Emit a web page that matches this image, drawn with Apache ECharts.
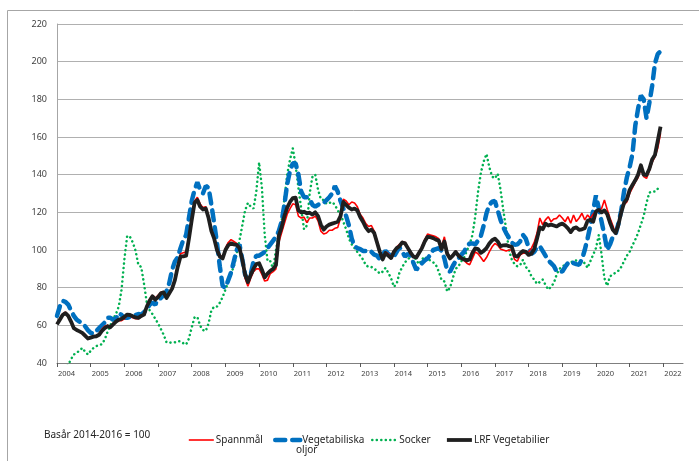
<!DOCTYPE html>
<html>
<head>
<meta charset="utf-8">
<script src="https://cdn.jsdelivr.net/npm/echarts@6/dist/echarts.min.js"></script>
<style>
  html, body { margin: 0; padding: 0; background: #fff; }
  #chart { width: 699px; height: 461px; }
</style>
</head>
<body>
<div id="chart"></div>
<script>
  // år på x-axeln, månadsdata jan 2004 - dec 2021
  const years = [2004, 2005, 2006, 2007, 2008, 2009, 2010, 2011, 2012, 2013, 2014, 2015, 2016, 2017, 2018, 2019, 2020, 2021, 2022]
  const months = ['01', '02', '03', '04', '05', '06', '07', '08', '09', '10', '11', '12']

  const spannmal = [
    61, 63.5, 66, 67, 65.5, 62, 58.5, 57.5, 57, 56, 55, 53,
    53.5, 54, 54.5, 55.5, 58, 59.5, 60, 59.5, 61, 62, 62.5, 62.5,
    63.5, 65.5, 65, 64, 63.5, 63.5, 64.5, 66, 70.5, 74, 76, 74.5,
    76, 77.5, 78, 75, 77.5, 80, 85, 92, 98, 98.5, 99, 107.5,
    117, 126, 128, 124.5, 122.5, 123, 118, 111, 107, 101, 97.5, 96,
    101, 104, 105.5, 104.5, 103.5, 101.5, 94, 85, 80.7, 85, 88.5, 90,
    90, 87, 83.5, 84, 87.5, 88.5, 90, 104, 109, 114, 119, 122,
    124.5, 124, 118, 117, 117.5, 114.5, 117, 117, 118, 115.5, 110, 108.5,
    109, 110.5, 110.5, 111.5, 112, 117, 127, 126, 124, 125.5, 125, 123,
    119, 117, 114, 112.5, 113, 110, 105, 99.5, 96, 99, 98, 96.5,
    99.5, 101.5, 103, 104.5, 104, 101.5, 99, 97, 96.5, 99, 102, 105.5,
    108.5, 108, 107.5, 107, 106, 102, 107, 99, 96, 97.5, 99.5, 97.5,
    96, 94.5, 93, 92.2, 95.5, 99, 98, 96, 93.9, 96, 99, 101.7,
    103.5, 102.5, 100.5, 100, 99.5, 100, 100, 95, 94, 97.5, 98.3, 98.3,
    99, 101, 104, 109, 117, 113.5, 116, 117.7, 115, 116.5, 116.8, 118.6,
    117, 115, 117.7, 114.2, 118.6, 115.1, 117, 119.5, 116, 118.6, 116.9, 119,
    121, 121, 122, 126.6, 121.5, 117, 113, 108.5, 112, 121, 124, 125.5,
    130, 133, 136, 138.5, 143, 139, 138, 142, 146.5, 149.5, 154, 162
  ]

  const oljor = [
    65, 70, 73, 72.5, 71, 68, 65, 63, 62, 61, 59.5, 57.5,
    56, 55.5, 57, 58.5, 60, 61.5, 64, 64, 63, 63.5, 66.5, 65.5,
    64, 64, 64.5, 65, 65.5, 66, 65.7, 67, 68.5, 71, 72, 71,
    73.6, 74.5, 76, 78, 82.5, 89.5, 93.9, 96, 101, 105.4, 108, 117,
    126, 131.9, 136, 132, 130.1, 134, 133, 124, 114.2, 103.6, 91.3, 81,
    80, 84, 88, 94, 100, 103, 95, 87, 84, 87, 94, 97,
    97, 98, 99, 101, 103, 105, 107, 110, 115, 124, 135, 142,
    146, 146, 140, 131, 128, 128, 127, 124, 123, 124, 125, 125,
    126.5, 128, 130, 134, 131, 126, 122, 118, 113, 106, 102, 101,
    100.5, 99.5, 99.5, 100, 99, 97.5, 97, 95, 97.5, 99.5, 98, 97,
    96.5, 99, 101.5, 99, 96.5, 98, 97, 93, 89.5, 91, 93, 94.5,
    95.5, 97.5, 100, 100.5, 101, 99.5, 95.5, 89, 88.5, 91.5, 94, 95.5,
    97.4, 99, 102, 103.5, 103.5, 103, 105, 107.5, 113, 119.5, 124, 125.6,
    126, 121, 116, 112, 109, 106.5, 104, 102.7, 103, 104.5, 108, 106,
    101.5, 98, 99, 101.5, 102, 99.5, 97, 94.5, 93, 91.5, 88.6, 88.6,
    88.6, 91, 93, 94, 93, 92.5, 92.2, 95, 100, 106, 113, 121,
    129, 122, 115, 108, 100, 103, 107, 108.5, 114, 121, 131, 138.5,
    144, 151, 166, 175, 182, 180, 170, 178, 187, 199, 204, 205.5
  ]

  const socker = [
    36, 35, 36, 37.5, 39, 42, 44.5, 45.5, 46.5, 48, 46, 44.5,
    46.5, 48, 49, 49.5, 50, 52.5, 56.5, 60, 63.5, 66, 70, 79,
    95, 107.5, 107, 104, 99.5, 92, 91, 82, 72, 68, 66, 63.5,
    61, 58, 55, 51, 50.7, 51, 51, 51.5, 51.5, 50.5, 49.8, 53,
    59, 64.2, 64.5, 59.8, 57.5, 57, 61, 68, 70, 70, 72, 75,
    79, 83, 88, 91, 98, 105, 113, 121, 125, 123, 122, 131,
    146.5, 133, 108, 94, 94, 90, 100, 108, 115, 127, 140, 148,
    154, 145, 133, 122, 111, 113, 130, 139, 140, 132, 127, 126.5,
    124.5, 125, 125.5, 124, 121, 119, 115, 111, 106, 103, 101, 99,
    97, 95, 92, 91, 91, 90, 89, 87.5, 88.5, 90.5, 88, 85,
    80.5, 82, 88, 91, 93.5, 95, 96.5, 97, 94.5, 92.5, 95, 96.5,
    95, 94.5, 93.5, 92, 88.5, 84, 83.3, 78, 80, 85, 90, 91.3,
    94, 96, 99.5, 103, 108, 118, 131, 141, 147, 151, 144, 139,
    138, 140.5, 132, 121, 111, 100, 95, 92.5, 91.3, 92, 94.8, 91,
    89.5, 86, 84.3, 82, 83, 84.3, 81.5, 79, 80.5, 82.5, 87, 90,
    91.3, 92, 92.5, 93.5, 94, 94.5, 94.5, 94, 93, 90.5, 94, 97.5,
    101, 108, 97.5, 85, 81, 86, 87, 88, 89, 91, 94, 97,
    99, 102.5, 105.5, 109, 113.5, 118, 125, 130.5, 131, 131, 132.5, 133.6
  ]

  const lrf = [
    60.5, 63, 65.5, 66.5, 65, 62, 58.5, 57.5, 56.8, 56, 54.5, 53,
    53.5, 54, 54.2, 55, 57, 58.5, 59.5, 59, 60.5, 62, 63, 63.5,
    64.5, 65.7, 65.5, 64.8, 64.2, 64, 65, 65.7, 70, 73, 75.4, 73.6,
    75, 77, 77.5, 74.5, 77, 79.5, 84, 91, 96.6, 96.6, 97, 106,
    116, 125, 126.5, 123, 121.5, 122, 117, 110, 106, 100, 96.5, 95.5,
    100, 102.5, 103.5, 103, 102.7, 101, 95, 87, 83, 86.8, 90, 92.5,
    93, 89.5, 85.5, 87.5, 89, 90, 92, 107.5, 112, 118, 122.5, 125.5,
    127.5, 127.8, 121, 120, 120.3, 119.5, 119.8, 118.8, 120, 118, 113.5, 110.8,
    112.5, 113.5, 114, 114.5, 115, 118, 125.5, 124, 122.5, 121.5, 122, 121,
    117.5, 115, 112, 110, 110.8, 109, 104, 99, 95, 98.4, 97, 95.7,
    99, 101, 102, 104, 103.5, 101, 98.5, 96.5, 96, 98.5, 101, 104.5,
    107, 106.8, 106.3, 105.5, 105, 100.5, 104.5, 98, 95.5, 97, 99, 97,
    95.7, 95, 94.5, 95, 98.5, 100.9, 100.5, 98.5, 99.5, 101, 103.5, 105.2,
    106, 104.5, 102, 102.5, 102.6, 102, 101.7, 97, 96.5, 98.3, 99.5, 99,
    97.4, 98, 100.5, 106, 112, 111, 114, 113, 113.5, 113, 112.5, 113.5,
    114, 113, 111.5, 109.5, 111.5, 112, 110.7, 111, 111.6, 115.5, 116, 115,
    120.5, 121.3, 120, 121, 119, 114.5, 110.7, 109, 113.5, 120, 125, 127,
    131.9, 134.5, 137, 140, 145, 140, 139.8, 143, 148, 150.4, 158, 165.5
  ]

  // axeln går till aug 2022
  let categories = []
  years.forEach(y => months.forEach(m => categories.push(y + '-' + m)))
  categories = categories.slice(0, 224)

  const yearTick = (idx) => idx % 12 === 0
  const font = 'Noto Sans'

  let dom = echarts.init(document.getElementById('chart'))
  let option = {
    animation: false,
    backgroundColor: '#fff',
    textStyle: { fontFamily: font },
    grid: { left: 57, right: 16, top: 24, bottom: 98 },
    xAxis: {
      type: 'category',
      data: categories,
      boundaryGap: false,
      axisLine: { lineStyle: { color: '#7f7f7f', width: 1 } },
      axisTick: { show: true, interval: yearTick, length: 4, lineStyle: { color: '#595959' } },
      axisLabel: {
        interval: yearTick,
        formatter: v => v.slice(0, 4),
        align: 'left',
        padding: [0, 0, 0, 1],
        margin: 7,
        fontSize: 7.5,
        color: '#404040',
        fontFamily: font
      },
      splitLine: { show: false }
    },
    yAxis: {
      type: 'value',
      min: 40,
      max: 220,
      interval: 20,
      axisLine: { show: true, lineStyle: { color: '#a6a6a6' } },
      axisTick: { show: false },
      axisLabel: { fontSize: 9, color: '#404040', margin: 10, fontFamily: font },
      splitLine: { lineStyle: { color: '#b0b0b0', width: 1 } }
    },
    legend: [
      { data: ['Spannmål'], left: 183 },
      { data: ['Vegetabiliska oljor'], left: 268, formatter: () => 'Vegetabiliska' },
      { data: ['Socker'], left: 366 },
      { data: ['LRF Vegetabilier'], left: 440 }
    ].map(l => Object.assign({
      top: 430,
      itemWidth: 25,
      itemHeight: 10,
      itemGap: 0,
      lineStyle: { width: 'inherit' },
      itemStyle: { opacity: 0 },
      textStyle: { fontSize: 10, color: '#262626', fontFamily: font, padding: [0, 0, 0, -3] }
    }, l)),
    graphic: [
      { type: 'rect', shape: { x: 7.5, y: 10.5, width: 720, height: 480 }, style: { fill: 'none', stroke: '#a6a6a6', lineWidth: 1 }, silent: true },
      { type: 'text', left: 44, top: 430, style: { text: 'Basår 2014-2016 = 100', fontSize: 10, fill: '#262626', fontFamily: font } },
      { type: 'text', left: 296, top: 445, style: { text: 'oljor', fontSize: 10, fill: '#262626', fontFamily: font } }
    ],
    series: [
      {
        name: 'Socker', type: 'line', data: socker, symbol: 'none',
        lineStyle: { color: '#00b050', width: 2.5, type: [0.1, 4.4], cap: 'round' },
        itemStyle: { color: '#00b050' }
      },
      {
        name: 'Vegetabiliska oljor', type: 'line', data: oljor, symbol: 'none',
        lineStyle: { color: '#0070c0', width: 4.5, type: [10, 7], cap: 'round' },
        itemStyle: { color: '#0070c0' }
      },
      {
        name: 'Spannmål', type: 'line', data: spannmal, symbol: 'none',
        lineStyle: { color: '#ff0000', width: 1.6 },
        itemStyle: { color: '#ff0000' }
      },
      {
        name: 'LRF Vegetabilier', type: 'line', data: lrf, symbol: 'none',
        lineStyle: { color: '#1f1f1f', width: 3.8, join: 'round' },
        itemStyle: { color: '#1f1f1f' }
      }
    ]
  }
  dom.setOption(option)
  window.addEventListener('resize', dom.resize)
</script>
</body>
</html>
